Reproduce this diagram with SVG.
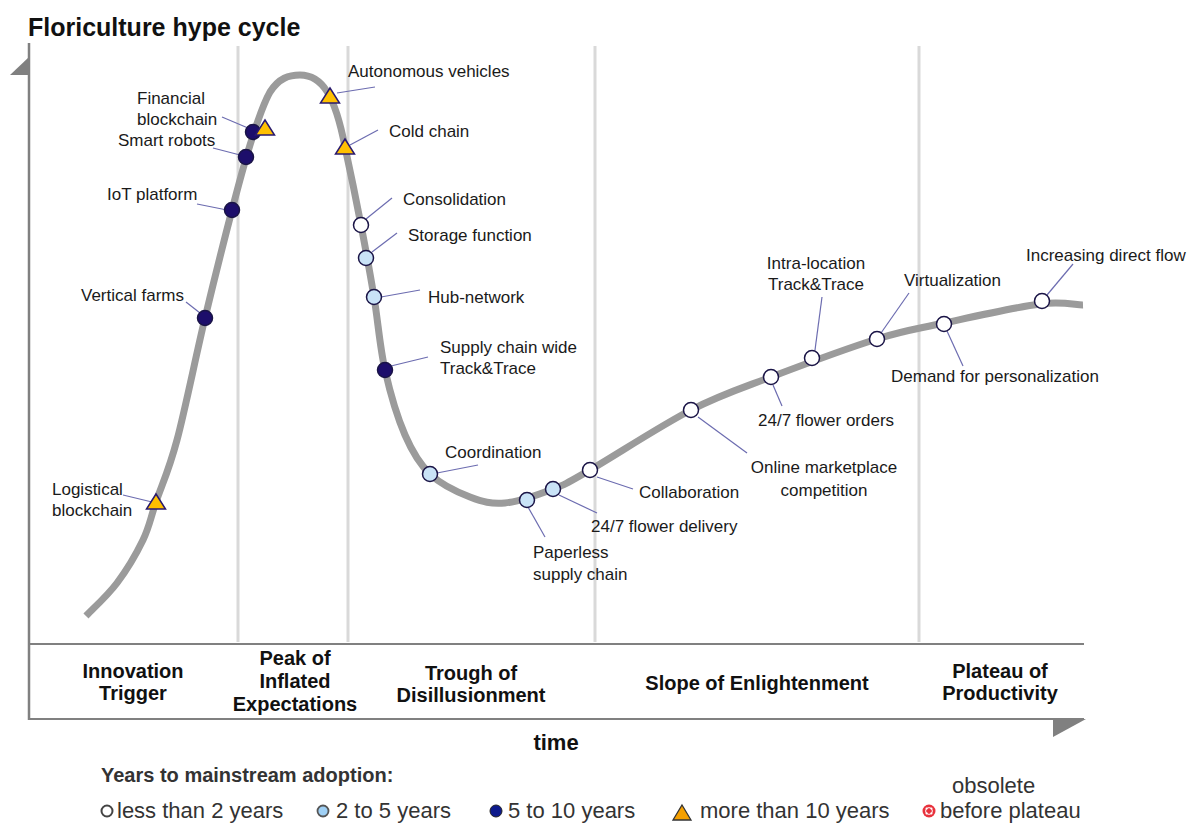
<svg xmlns="http://www.w3.org/2000/svg" xmlns:xlink="http://www.w3.org/1999/xlink" width="1195" height="824" viewBox="0 0 1195 824">
<style>
  .lbl{font-family:"Liberation Sans",Arial,sans-serif;font-size:17px;fill:#1a1a1a}
  .ph{font-family:"Liberation Sans",Arial,sans-serif;font-size:20px;font-weight:bold;fill:#111;text-anchor:middle}
  .leg{font-family:"Liberation Sans",Arial,sans-serif;font-size:22px;fill:#333}
  .div{stroke:#d9d9d9;stroke-width:3;fill:none}
  .ax{stroke:#808080;stroke-width:2.5;fill:none}
  .ld{stroke:#6c6cb0;stroke-width:1.2;fill:none}
  .c5{fill:#1d0e6b;stroke:#1a1446;stroke-width:1.5}
  .c2{fill:#c9e3f7;stroke:#1a1446;stroke-width:1.5}
  .c0{fill:#ffffff;stroke:#1a1446;stroke-width:1.5}
  .t10{fill:#ffc000;stroke:#2a1a6e;stroke-width:1.5}
</style>
<defs>
  <path id="tri" d="M0,-9 L9.5,6 L-9.5,6 Z"/>
</defs>
<rect width="1195" height="824" fill="#ffffff"/>
<text x="28" y="36" style="font-family:'Liberation Sans',Arial,sans-serif;font-size:25px;font-weight:bold;fill:#111">Floriculture hype cycle</text>

<g id="axes">
  <line class="div" x1="238" y1="46" x2="238" y2="642"/>
  <line class="div" x1="348" y1="46" x2="348" y2="642"/>
  <line class="div" x1="595" y1="46" x2="595" y2="642"/>
  <line class="div" x1="919" y1="46" x2="919" y2="642"/>
  <line class="ax" x1="29" y1="43" x2="29" y2="720"/>
  <path d="M29,57 L29,75 L10,75 Z" fill="#808080"/>
  <line class="ax" x1="29" y1="644" x2="1084" y2="644" style="stroke-width:2"/>
  <line class="ax" x1="29" y1="719" x2="1084" y2="719" style="stroke-width:2"/>
  <path d="M1053,719 L1086,719 L1053,737 Z" fill="#808080"/>
</g>

<g id="phases">
  <text class="ph" x="133" y="678">Innovation</text>
  <text class="ph" x="133" y="700">Trigger</text>
  <text class="ph" x="295" y="665">Peak of</text>
  <text class="ph" x="295" y="688">Inflated</text>
  <text class="ph" x="295" y="711">Expectations</text>
  <text class="ph" x="471" y="680">Trough of</text>
  <text class="ph" x="471" y="702">Disillusionment</text>
  <text class="ph" x="757" y="690">Slope of Enlightenment</text>
  <text class="ph" x="1000" y="678">Plateau of</text>
  <text class="ph" x="1000" y="700">Productivity</text>
  <text class="ph" x="556" y="750" style="font-size:22px">time</text>
</g>

<g id="curve">
  <path d="M86,616 C91.2,610.5 107.5,595.7 117,583 C126.5,570.3 136.5,553.5 143,540 C149.5,526.5 150.3,518.7 156,502 C161.7,485.3 168.8,470.7 177,440 C185.2,409.3 195.8,356.3 205,318 C214.2,279.7 224.5,238.8 232,210 C239.5,181.2 244,164.5 250,145 C256,126 262,106 270,92 C279,78 289,75 300,75 C322,75 335,95 345,147 C349.3,166.7 356.2,200 361,225 C365.8,250 370,272.8 374,297 C378,321.2 379.8,347 385,370 C390.2,393 397.5,417.7 405,435 C412.5,452.3 419.2,463.7 430,474 C440.8,484.3 457.5,492.2 470,497 C482.5,501.8 491.2,504.3 505,503 C518.8,501.7 538.8,494.5 553,489 C567.2,483.5 567,483.2 590,470 C613,456.8 660.8,425.5 691,410 C721.2,394.5 740,388.8 771,377 C802,365.2 848.2,348 877,339 C905.8,330 916.5,329.2 944,323 C971.2,317.2 1016.8,307 1040,304 C1063.2,301 1075.8,305.2 1083,305" fill="none" stroke="#9b9b9b" stroke-width="7"/>
</g>

<g id="connectors">
  <line class="ld" x1="123" y1="495" x2="152" y2="502"/>
  <line class="ld" x1="186" y1="302" x2="200" y2="313"/>
  <line class="ld" x1="197" y1="204" x2="227" y2="210"/>
  <line class="ld" x1="213" y1="148" x2="240" y2="155"/>
  <line class="ld" x1="222" y1="117" x2="248" y2="128"/>
  <line class="ld" x1="337" y1="93" x2="375" y2="87"/>
  <line class="ld" x1="350" y1="145" x2="378" y2="130"/>
  <line class="ld" x1="366" y1="219" x2="392" y2="198"/>
  <line class="ld" x1="372" y1="252" x2="397" y2="233"/>
  <line class="ld" x1="381" y1="297" x2="420" y2="290"/>
  <line class="ld" x1="391" y1="366" x2="428" y2="357"/>
  <line class="ld" x1="437" y1="473" x2="478" y2="465"/>
  <line class="ld" x1="528" y1="507" x2="545" y2="537"/>
  <line class="ld" x1="559" y1="495" x2="597" y2="513"/>
  <line class="ld" x1="597" y1="477" x2="633" y2="489"/>
  <line class="ld" x1="698" y1="417" x2="747" y2="453"/>
  <line class="ld" x1="773" y1="385" x2="782" y2="406"/>
  <line class="ld" x1="815" y1="350" x2="822" y2="297"/>
  <line class="ld" x1="881" y1="333" x2="909" y2="293"/>
  <line class="ld" x1="947" y1="331" x2="963" y2="366"/>
  <line class="ld" x1="1047" y1="295" x2="1073" y2="264"/>
</g>

<g id="logistical-blockchain">
  <use href="#tri" x="156" y="503" class="t10"/>
  <text class="lbl" x="52" y="495">Logistical</text>
  <text class="lbl" x="52" y="516">blockchain</text>
</g>
<g id="vertical-farms">
  <circle class="c5" cx="205" cy="318" r="7.5"/>
  <text class="lbl" x="81" y="301">Vertical farms</text>
</g>
<g id="iot-platform">
  <circle class="c5" cx="232" cy="210" r="7.5"/>
  <text class="lbl" x="107" y="200">IoT platform</text>
</g>
<g id="smart-robots">
  <circle class="c5" cx="246" cy="157" r="7.5"/>
  <text class="lbl" x="118" y="146">Smart robots</text>
</g>
<g id="financial-blockchain">
  <circle class="c5" cx="253" cy="132" r="7.5"/>
  <use href="#tri" x="265" y="129" class="t10"/>
  <text class="lbl" x="137" y="104">Financial</text>
  <text class="lbl" x="137" y="125">blockchain</text>
</g>
<g id="autonomous-vehicles">
  <use href="#tri" x="330" y="97" class="t10"/>
  <text class="lbl" x="348" y="77">Autonomous vehicles</text>
</g>
<g id="cold-chain">
  <use href="#tri" x="345" y="148" class="t10"/>
  <text class="lbl" x="389" y="137">Cold chain</text>
</g>
<g id="consolidation">
  <circle class="c0" cx="361" cy="225" r="7.5"/>
  <text class="lbl" x="403" y="205">Consolidation</text>
</g>
<g id="storage-function">
  <circle class="c2" cx="366" cy="258" r="7.5"/>
  <text class="lbl" x="408" y="241">Storage function</text>
</g>
<g id="hub-network">
  <circle class="c2" cx="374" cy="297" r="7.5"/>
  <text class="lbl" x="428" y="303">Hub-network</text>
</g>
<g id="supply-chain-track-trace">
  <circle class="c5" cx="385" cy="370" r="7.5"/>
  <text class="lbl" x="440" y="353">Supply  chain wide</text>
  <text class="lbl" x="440" y="374">Track&amp;Trace</text>
</g>
<g id="coordination">
  <circle class="c2" cx="430" cy="474" r="7.5"/>
  <text class="lbl" x="445" y="458">Coordination</text>
</g>
<g id="paperless-supply-chain">
  <circle class="c2" cx="527" cy="500" r="7.5"/>
  <text class="lbl" x="533" y="558">Paperless</text>
  <text class="lbl" x="533" y="580">supply  chain</text>
</g>
<g id="flower-delivery">
  <circle class="c2" cx="553" cy="489" r="7.5"/>
  <text class="lbl" x="591" y="532">24/7 flower delivery</text>
</g>
<g id="collaboration">
  <circle class="c0" cx="590" cy="470" r="7.5"/>
  <text class="lbl" x="639" y="498">Collaboration</text>
</g>
<g id="online-marketplace">
  <circle class="c0" cx="691" cy="410" r="7.5"/>
  <text class="lbl" x="824" y="473" text-anchor="middle">Online marketplace</text>
  <text class="lbl" x="824" y="496" text-anchor="middle">competition</text>
</g>
<g id="flower-orders">
  <circle class="c0" cx="771" cy="377" r="7.5"/>
  <text class="lbl" x="758" y="426">24/7 flower orders</text>
</g>
<g id="intra-location">
  <circle class="c0" cx="812" cy="358" r="7.5"/>
  <text class="lbl" x="816" y="269" text-anchor="middle">Intra-location</text>
  <text class="lbl" x="816" y="290" text-anchor="middle">Track&amp;Trace</text>
</g>
<g id="virtualization">
  <circle class="c0" cx="877" cy="339" r="7.5"/>
  <text class="lbl" x="904" y="286">Virtualization</text>
</g>
<g id="demand-personalization">
  <circle class="c0" cx="944" cy="324" r="7.5"/>
  <text class="lbl" x="891" y="382">Demand for personalization</text>
</g>
<g id="increasing-direct-flow">
  <circle class="c0" cx="1042" cy="301" r="7.5"/>
  <text class="lbl" x="1026" y="261">Increasing direct flow</text>
</g>

<g id="legend">
  <text x="101" y="782" style="font-family:'Liberation Sans',Arial,sans-serif;font-size:20px;font-weight:bold;fill:#333">Years to mainstream adoption:</text>
  <circle cx="107" cy="811" r="5.5" fill="#fff" stroke="#444" stroke-width="2"/>
  <text class="leg" x="117" y="818">less than 2 years</text>
  <circle cx="323" cy="811" r="5.5" fill="#9fd0f5" stroke="#555" stroke-width="1.8"/>
  <text class="leg" x="336" y="818">2 to 5 years</text>
  <circle cx="496" cy="811" r="6" fill="#0d1a8c" stroke="#222" stroke-width="1"/>
  <text class="leg" x="508" y="818">5 to 10 years</text>
  <path d="M682,805 L691,820 L673,820 Z" fill="#f5a000" stroke="#333" stroke-width="1.3"/>
  <text class="leg" x="700" y="818">more than 10 years</text>
  <text class="leg" x="952" y="793">obsolete</text>
  <circle cx="929" cy="811" r="6.5" fill="#e8313c"/>
  <circle cx="929" cy="811" r="3.4" fill="none" stroke="#fff" stroke-width="1"/>
  <circle cx="926.6" cy="808.6" r="1.1" fill="#fff"/>
  <circle cx="931.4" cy="808.6" r="1.1" fill="#fff"/>
  <circle cx="926.6" cy="813.4" r="1.1" fill="#fff"/>
  <circle cx="931.4" cy="813.4" r="1.1" fill="#fff"/>
  <text class="leg" x="940" y="818">before plateau</text>
</g>
</svg>
